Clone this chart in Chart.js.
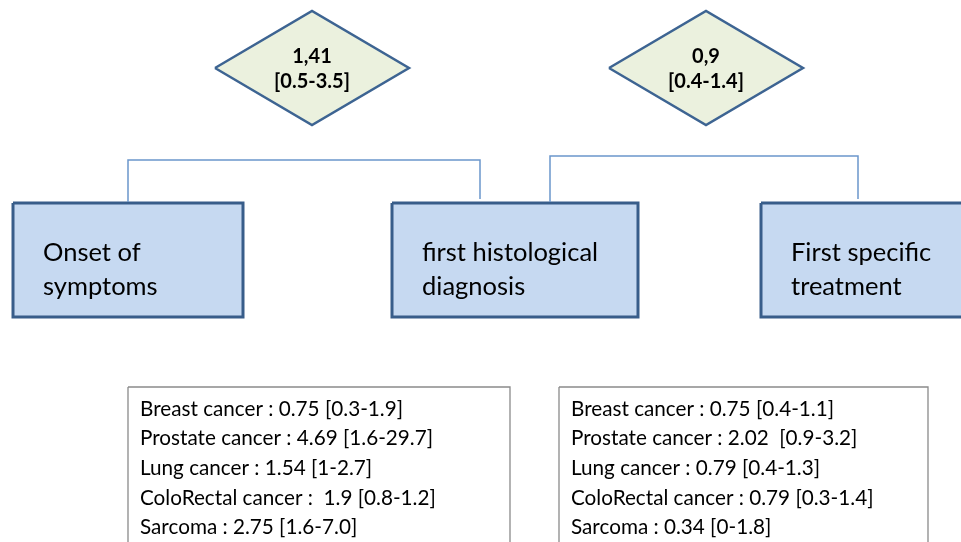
<!DOCTYPE html>
<html>
<head>
<meta charset="utf-8">
<script src="https://cdn.jsdelivr.net/npm/chart.js@4.4.1/dist/chart.umd.min.js"></script>
<style>
  html, body { margin: 0; padding: 0; background: #fff; }
  #wrap { width: 961px; height: 542px; }
</style>
</head>
<body>
<div id="wrap"><canvas id="schema" width="961" height="542"></canvas></div>
<script>
// donnees du schema
const stages = [['Onset of', 'symptoms'], ['first histological', 'diagnosis'], ['First specific', 'treatment']];
const delays = ['1,41', '0,9'];
const delayRanges = ['[0.5-3.5]', '[0.4-1.4]'];

const cancerTypes = ['Breast cancer', 'Prostate cancer', 'Lung cancer', 'ColoRectal cancer', 'Sarcoma'];
const onsetToDiagnosis = ['0.75', '4.69', '1.54', ' 1.9', '2.75'];
const onsetToDiagnosisRange = ['[0.3-1.9]', '[1.6-29.7]', '[1-2.7]', '[0.8-1.2]', '[1.6-7.0]'];
const diagnosisToTreatment = ['0.75', '2.02 ', '0.79', '0.79', '0.34'];
const diagnosisToTreatmentRange = ['[0.4-1.1]', '[0.9-3.2]', '[0.4-1.3]', '[0.3-1.4]', '[0-1.8]'];

// mise en page (unites des axes = pixels)
const stageBox = [[13, 243], [392, 638], [761, 990]];
const stageTop = 203, stageBottom = 317;
const diamondCx = [312, 706], diamondCy = 68, diamondHalfW = 97, diamondHalfH = 57;
const links = [[128, 480, 160], [550, 858, 156]];
const listBox = [[128, 510], [559, 928]];
const listTop = 387;

function rectPoints(x0, x1, y0, y1) {
    return [{x: x0, y: y0}, {x: x1, y: y0}, {x: x1, y: y1}, {x: x0, y: y1}, {x: x0, y: y0}];
}

let datasets = [];

links.forEach(l => {
    datasets.push({
        data: [{x: l[0], y: 202}, {x: l[0], y: l[2]}, {x: l[1], y: l[2]}, {x: l[1], y: 199}],
        borderColor: '#6b96cc', borderWidth: 1.5, fill: false
    });
});

stageBox.forEach(b => {
    datasets.push({
        data: rectPoints(b[0], b[1], stageTop, stageBottom),
        borderColor: '#385d8a', borderWidth: 3, backgroundColor: '#c6d9f1', fill: 'shape'
    });
});

diamondCx.forEach(cx => {
    datasets.push({
        data: [{x: cx - diamondHalfW, y: diamondCy}, {x: cx, y: diamondCy - diamondHalfH},
               {x: cx + diamondHalfW, y: diamondCy}, {x: cx, y: diamondCy + diamondHalfH},
               {x: cx - diamondHalfW, y: diamondCy}],
        borderColor: '#3d6492', borderWidth: 2.5, backgroundColor: '#ebf1de', fill: 'shape'
    });
});

listBox.forEach(b => {
    datasets.push({
        data: rectPoints(b[0], b[1], listTop, 600),
        borderColor: '#8a8a8a', borderWidth: 1.3, backgroundColor: '#ffffff', fill: 'shape'
    });
});

// textes dessines via les echelles
const textPlugin = {
    id: 'textes',
    afterDatasetsDraw(chart) {
        const ctx = chart.ctx;
        const sx = chart.scales.x, sy = chart.scales.y;
        ctx.save();
        ctx.fillStyle = '#000';
        ctx.textBaseline = 'middle';

        // losanges
        ctx.font = 'bold 20px Lato';
        ctx.textAlign = 'center';
        delays.forEach((d, i) => {
            ctx.fillText(d, sx.getPixelForValue(diamondCx[i]), sy.getPixelForValue(57));
            ctx.fillText(delayRanges[i], sx.getPixelForValue(diamondCx[i]), sy.getPixelForValue(82));
        });

        // etapes
        ctx.font = '25.5px Lato';
        ctx.textAlign = 'left';
        stages.forEach((s, i) => {
            s.forEach((line, j) => {
                ctx.fillText(line, sx.getPixelForValue(stageBox[i][0] + 30), sy.getPixelForValue(253 + j * 34));
            });
        });

        // listes
        ctx.font = '20.7px Lato';
        cancerTypes.forEach((c, j) => {
            const y = sy.getPixelForValue(409 + j * 29.7);
            ctx.fillText(c + ' : ' + onsetToDiagnosis[j] + ' ' + onsetToDiagnosisRange[j], sx.getPixelForValue(listBox[0][0] + 12), y);
            ctx.fillText(c + ' : ' + diagnosisToTreatment[j] + ' ' + diagnosisToTreatmentRange[j], sx.getPixelForValue(listBox[1][0] + 12), y);
        });
        ctx.restore();
    }
};

new Chart(document.getElementById('schema'), {
    type: 'scatter',
    data: { datasets: datasets },
    options: {
        responsive: false,
        animation: false,
        showLine: true,
        layout: { padding: 0 },
        elements: {
            point: { radius: 0, hoverRadius: 0 },
            line: { tension: 0 }
        },
        plugins: {
            legend: { display: false },
            tooltip: { enabled: false }
        },
        scales: {
            x: { type: 'linear', min: 0, max: 961, display: false },
            y: { type: 'linear', min: 0, max: 542, reverse: true, display: false }
        }
    },
    plugins: [textPlugin]
});
</script>
</body>
</html>
